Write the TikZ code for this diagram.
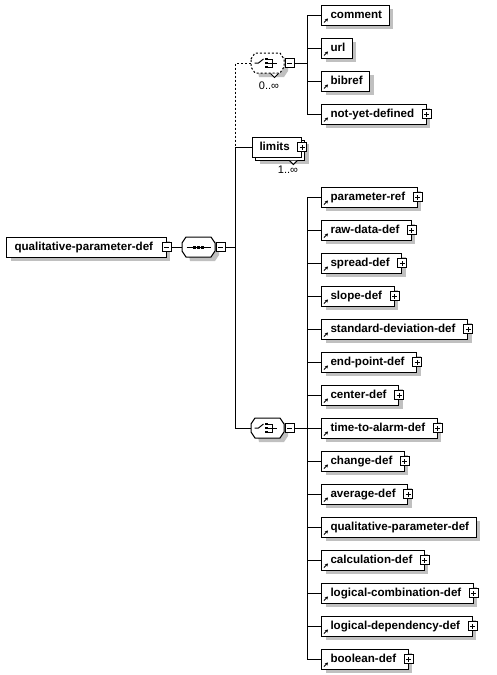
\documentclass[tikz,border=0pt]{standalone}
\usepackage{fontspec}
\setmainfont{Liberation Sans}
\usetikzlibrary{shadows,arrows.meta,positioning}
\definecolor{shadowgray}{RGB}{192,192,192}
\newcommand{\elemfont}{\fontsize{11.6}{13}\selectfont\bfseries}
\newcommand{\occfont}{\fontsize{11}{13}\selectfont}

\begin{document}
\begin{tikzpicture}[x=1pt, y=-1pt, line width=1pt,
    boxshadow/.style={drop shadow={shadow xshift=4pt, shadow yshift=-4pt, fill=shadowgray, opacity=1}},
    optional/.style={dash pattern=on 2pt off 2pt},
    elembox/.style={draw, fill=white, rectangle, minimum height=20pt, inner ysep=0pt, inner xsep=7pt, text height=9pt, text depth=2pt, font=\elemfont, anchor=west},
    refbox/.style={elembox, boxshadow, execute at begin node={\hspace*{2pt}},
        path picture={\draw[line width=0.9pt, -{Stealth[length=3pt, width=3.5pt]}] ([shift={(2.5pt,2.5pt)}]path picture bounding box.south west) -- ++(4pt,4pt);}},
    haskids/.style={execute at end node={\hspace*{5pt}}},
    compnode/.style={rectangle, minimum width=33pt, minimum height=20pt, inner sep=0pt},
    minusbox/.style={draw, fill=white, rectangle, minimum size=9pt, inner sep=0pt,
        path picture={\draw (path picture bounding box.center) +(-2.5pt,0pt) -- +(2.5pt,0pt);}},
    plusbox/.style={draw, fill=white, rectangle, minimum size=9pt, inner sep=0pt,
        path picture={\draw (path picture bounding box.center) +(-2.5pt,0pt) -- +(2.5pt,0pt) +(0pt,-2.5pt) -- +(0pt,2.5pt);}},
    compbox/.pic={\fill[shadowgray] (-12.5,-6) -- (16.5,-6) -- (20.5,0) -- (20.5,8) -- (16.5,14) -- (-8.5,14) -- cycle;
        \draw[fill=white, #1] (-16.5,-4) -- (-12.5,-10) -- (12.5,-10) -- (16.5,-4) -- (16.5,4) -- (12.5,10) -- (-12.5,10) -- (-16.5,4) -- cycle;},
    seqsym/.pic={\draw (-12,0) -- (12,0);
        \foreach \d in {-4,0,4} \fill (\d-1.5,-1.5) rectangle (\d+1.5,1.5);},
    choicesym/.pic={\draw (-13,0) -- (-9,0) -- (-4,-4);
        \foreach \d in {-4,0,4} \fill (-2.5,\d-1.3) rectangle (0.5,\d+1.3);
        \draw (0.5,-4) -- (4.5,-4) -- (4.5,4) -- (0.5,4);
        \draw (0.5,0) -- (9.5,0);}]
    \useasboundingbox (0,0) rectangle (497,675);
    % Root element and sequence
    \node[elembox, boxshadow, inner xsep=8pt, haskids] (qpd) at (6,247) {qualitative-parameter-def};
    \node[minusbox] (qpd_m) at (qpd.east) {};
    \node[compnode] (seq) at (198.5,247) {};
    \pic at (seq.center) {compbox=solid};
    \pic at (seq.center) {seqsym};
    \node[minusbox, anchor=west] (seq_m) at (seq.east) {};
    \coordinate (trunk) at (235,247);
    % Optional choice
    \node[compnode] (opt) at (267.5,63) {};
    \pic at (opt.center) {compbox=optional};
    \pic at (opt.center) {choicesym};
    \node[minusbox, anchor=west] (opt_m) at (opt.east) {};
    \draw[fill=white] ([xshift=3pt]opt.south) -- ++(4,4) -- ++(4,-4);
    \node[font=\occfont] (opt_occ) at (269,86) {0..∞};
    \coordinate (opt_bus) at (307,63);
    \node[refbox] (comment) at (321,15) {comment};
    \node[refbox] (url) at (321,48) {url};
    \node[refbox] (bibref) at (321,81) {bibref};
    \node[refbox, haskids] (not_yet) at (321,114) {not-yet-defined};
    \node[plusbox] (not_yet_p) at (not_yet.east) {};
    % Limits
    \node[elembox, boxshadow, haskids] (limits_back) at (255,150) {\phantom{limits}};
    \node[elembox, haskids] (limits) at (252,147) {limits};
    \node[plusbox] (limits_p) at (limits.east) {};
    \draw[fill=white] ([xshift=-16pt]limits_back.south east) -- ++(4,4) -- ++(4,-4);
    \node[font=\occfont] (limits_occ) at (288,170) {1..∞};
    % Definition choice
    \node[compnode] (sel) at (267.5,428) {};
    \pic at (sel.center) {compbox=solid};
    \pic at (sel.center) {choicesym};
    \node[minusbox, anchor=west] (sel_m) at (sel.east) {};
    \coordinate (sel_bus) at (307,428);
    \node[refbox, haskids] (param_ref) at (321,197) {parameter-ref};
    \node[refbox, haskids] (raw_data) at (321,230) {raw-data-def};
    \node[refbox, haskids] (spread) at (321,263) {spread-def};
    \node[refbox, haskids] (slope) at (321,296) {slope-def};
    \node[refbox, haskids] (std_dev) at (321,329) {standard-deviation-def};
    \node[refbox, haskids] (end_point) at (321,362) {end-point-def};
    \node[refbox, haskids] (center) at (321,395) {center-def};
    \node[refbox, haskids] (alarm) at (321,428) {time-to-alarm-def};
    \node[refbox, haskids] (change) at (321,461) {change-def};
    \node[refbox, haskids] (average) at (321,494) {average-def};
    \node[refbox] (qual_def) at (321,527) {qualitative-parameter-def};
    \node[refbox, haskids] (calc) at (321,560) {calculation-def};
    \node[refbox, haskids] (log_comb) at (321,593) {logical-combination-def};
    \node[refbox, haskids] (log_dep) at (321,626) {logical-dependency-def};
    \node[refbox, haskids] (boolean) at (321,659) {boolean-def};
    \node[plusbox] (param_ref_p) at (param_ref.east) {};
    \node[plusbox] (raw_data_p) at (raw_data.east) {};
    \node[plusbox] (spread_p) at (spread.east) {};
    \node[plusbox] (slope_p) at (slope.east) {};
    \node[plusbox] (std_dev_p) at (std_dev.east) {};
    \node[plusbox] (end_point_p) at (end_point.east) {};
    \node[plusbox] (center_p) at (center.east) {};
    \node[plusbox] (alarm_p) at (alarm.east) {};
    \node[plusbox] (change_p) at (change.east) {};
    \node[plusbox] (average_p) at (average.east) {};
    \node[plusbox] (calc_p) at (calc.east) {};
    \node[plusbox] (log_comb_p) at (log_comb.east) {};
    \node[plusbox] (log_dep_p) at (log_dep.east) {};
    \node[plusbox] (boolean_p) at (boolean.east) {};
    % Connectors
    \draw (qpd_m) -- (seq);
    \draw (seq_m) -- (trunk);
    \draw[optional] (opt.west) -| (trunk);
    \draw (limits.west) -| (trunk);
    \draw (sel.west) -| (trunk);
    \draw (opt_m) -- (opt_bus);
    \draw (comment.west) -| (opt_bus);
    \draw (url.west) -| (opt_bus);
    \draw (bibref.west) -| (opt_bus);
    \draw (not_yet.west) -| (opt_bus);
    \draw (sel_m) -- (sel_bus);
    \draw (param_ref.west) -| (sel_bus);
    \draw (raw_data.west) -| (sel_bus);
    \draw (spread.west) -| (sel_bus);
    \draw (slope.west) -| (sel_bus);
    \draw (std_dev.west) -| (sel_bus);
    \draw (end_point.west) -| (sel_bus);
    \draw (center.west) -| (sel_bus);
    \draw (alarm.west) -| (sel_bus);
    \draw (change.west) -| (sel_bus);
    \draw (average.west) -| (sel_bus);
    \draw (qual_def.west) -| (sel_bus);
    \draw (calc.west) -| (sel_bus);
    \draw (log_comb.west) -| (sel_bus);
    \draw (log_dep.west) -| (sel_bus);
    \draw (boolean.west) -| (sel_bus);
\end{tikzpicture}
\end{document}
